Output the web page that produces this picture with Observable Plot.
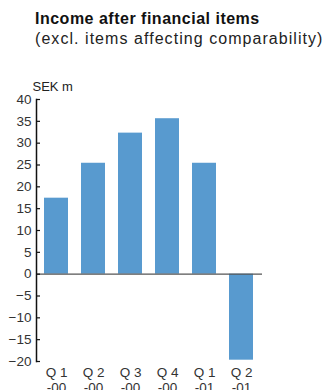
<!DOCTYPE html>
<html>
<head>
<meta charset="utf-8">
<script src="https://cdn.jsdelivr.net/npm/d3@7"></script>
<script src="https://cdn.jsdelivr.net/npm/@observablehq/plot@0.6"></script>
<style>
  html, body { margin: 0; padding: 0; background: #fff; }
  #wrap { width: 326px; height: 390px; position: relative; overflow: hidden; }
  #title { position: absolute; left: 35px; top: 10px; font-family: "Liberation Sans", Arial, sans-serif; font-weight: bold; font-size: 16px; color: #111; letter-spacing: 0.5px; white-space: nowrap; }
  #subtitle { position: absolute; left: 35px; top: 30px; font-family: "Liberation Sans", Arial, sans-serif; font-size: 16px; color: #222; letter-spacing: 1.05px; white-space: nowrap; }
  #chart { position: absolute; left: 0; top: 60px; }
</style>
</head>
<body>
<div id="wrap">
  <div id="title">Income after financial items</div>
  <div id="subtitle">(excl. items affecting comparability)</div>
  <div id="chart"></div>
</div>
<script>
const quarters = ["Q 1\n-00", "Q 2\n-00", "Q 3\n-00", "Q 4\n-00", "Q 1\n-01", "Q 2\n-01"];
const income = [17.4, 25.4, 32.3, 35.6, 25.4, -19.7];
const yTicks = [-20, -15, -10, -5, 0, 5, 10, 15, 20, 25, 30, 35, 40];
const unitLabel = "SEK m";

const data = quarters.map((q, i) => ({q, v: income[i]}));

const W = 326, ML = 36, MR = 64;
const plot = Plot.plot({
  width: W,
  height: 330,
  marginLeft: ML,
  marginRight: MR,
  marginTop: 39,
  marginBottom: 29,
  style: {fontFamily: "'Liberation Sans', Arial, sans-serif", fontSize: "13.5px", color: "#333", background: "transparent"},
  x: {domain: quarters, paddingInner: 0.34, paddingOuter: 0.17, label: null},
  y: {domain: [-20, 40], label: null},
  marks: [
    Plot.barY(data, {x: "q", y: "v", fill: "#589ACF"}),
    Plot.ruleY([0], {stroke: "#555", strokeWidth: 1.2}),
    Plot.ruleY(yTicks, {stroke: "#111", strokeWidth: 1.2, insetRight: (W - ML - MR) - 4}),
    Plot.frame({anchor: "left", stroke: "#111", strokeWidth: 1.5}),
    Plot.axisY({ticks: yTicks, tickSize: 0, tickPadding: 5, label: null, fill: "#333"}),
    Plot.axisX({tickSize: 0, tickPadding: 5, label: null, lineHeight: 1.1, fill: "#333"}),
    Plot.text([unitLabel], {frameAnchor: "top-left", text: d => d, textAnchor: "start", lineAnchor: "bottom", dx: -4, dy: -9, fill: "#222", fontSize: 13})
  ]
});
document.getElementById("chart").appendChild(plot);
</script>
</body>
</html>
